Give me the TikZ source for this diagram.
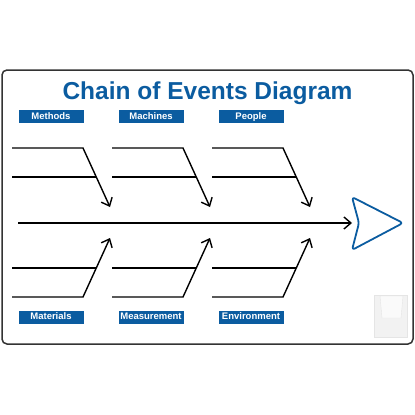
\documentclass[tikz,border=0pt]{standalone}
\usepackage{fontspec}
\setmainfont{Liberation Sans}
\usetikzlibrary{arrows.meta,positioning,calc}
\definecolor{boardblue}{HTML}{0B5CA0}

\begin{document}
\begin{tikzpicture}[x=1pt,y=-1pt,
  tag/.style={fill=boardblue, text=white, font=\bfseries\fontsize{9.5}{10}\selectfont, minimum width=65pt, minimum height=13pt, inner sep=0pt, text height=7pt, text depth=2pt},
  bone/.style={-{Straight Barb[length=7pt,width=12pt]}, line width=1.4pt},
  rib/.style={line width=1.4pt}]
\useasboundingbox (0,0) rectangle (415,415);
\draw[rounded corners=5pt, line width=1.5pt, draw=black!80] (2,70) rectangle (413,344);

\node[name=title, text=boardblue, font=\bfseries\fontsize{24.5}{28}\selectfont] at (207.5,93) {Chain of Events Diagram};

\foreach \x/\ttl/\btl [count=\i] in {0/Methods/Materials, 100/Machines/Measurement, 200/People/Environment} {
  \node[tag, name=top\i] at (51+\x,116.5) {\ttl};
  \node[tag, name=bot\i] at (51+\x,317) {\btl};
  % upper ribs
  \coordinate (ua\i) at (12+\x,148);
  \coordinate (uk\i) at (83+\x,148);
  \coordinate (ut\i) at (110+\x,207);
  \coordinate (ub\i) at (12+\x,177);
  \coordinate (ue\i) at (96+\x,177);
  \draw[bone] (ua\i) -- (uk\i) -- (ut\i);
  \draw[rib] (ub\i) -- (ue\i);
  % lower ribs
  \coordinate (la\i) at (12+\x,297);
  \coordinate (lk\i) at (83+\x,297);
  \coordinate (lt\i) at (110+\x,238);
  \coordinate (lb\i) at (12+\x,268);
  \coordinate (le\i) at (96+\x,268);
  \draw[bone] (la\i) -- (lk\i) -- (lt\i);
  \draw[rib] (lb\i) -- (le\i);
}

% spine and head
\coordinate (tail) at (18,223);
\coordinate (head) at (352,223);
\draw[bone] (tail) -- (head);
\draw[boardblue, line width=1.8pt, rounded corners=3pt, line join=round]
  (352,197) -- (403,223) -- (352,250) -- (359,223) -- cycle;

% pocket holder
\draw[black!10, fill=black!5] (374,295) rectangle (407,337);
\draw[black!10, fill=black!2] (380,296) -- (403,296) -- (401,318) -- (382,318) -- cycle;
\end{tikzpicture}
\end{document}
